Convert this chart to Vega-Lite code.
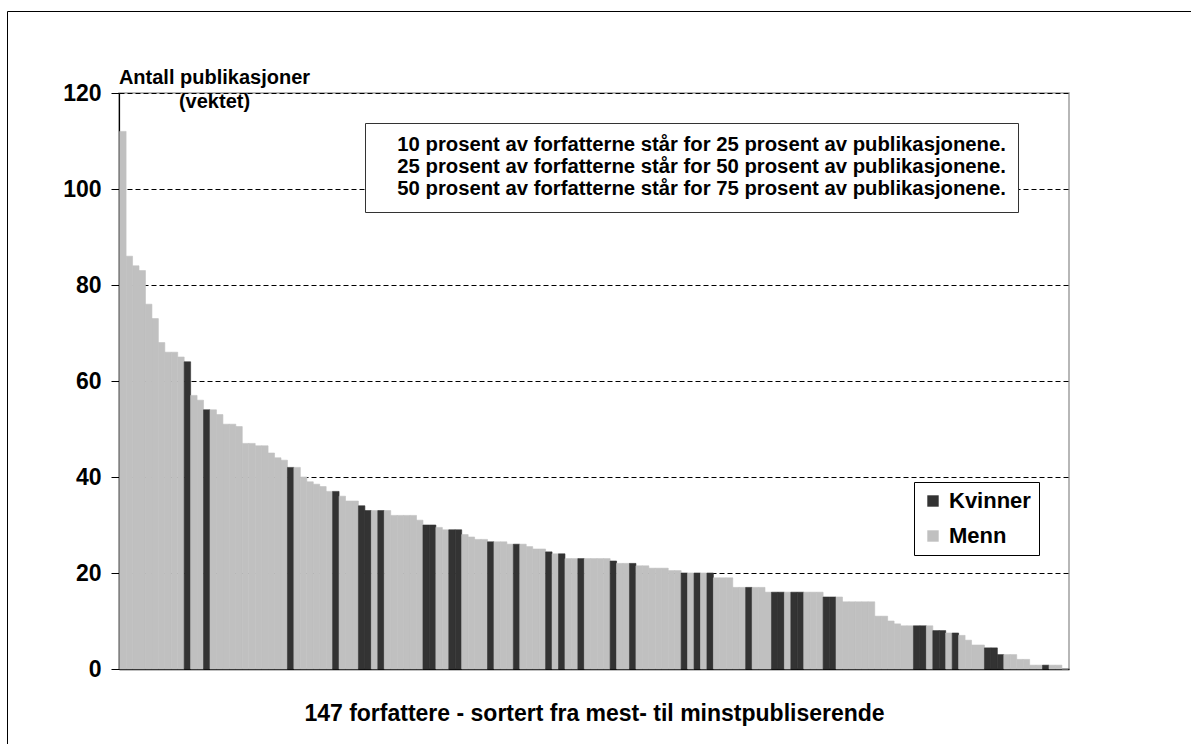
{
  "$schema": "https://vega.github.io/schema/vega-lite/v6.json",
  "width": 950,
  "height": 576,
  "autosize": {"type": "none"},
  "padding": {"left": 119, "top": 93, "right": 122, "bottom": 75},
  "background": "white",
  "config": {
    "font": "Liberation Sans",
    "view": {"stroke": "#a0a0a0", "strokeWidth": 1.5},
    "legend": {"labelFont": "Liberation Sans", "labelFontWeight": "bold", "labelColor": "black"}
  },
  "layer": [
    {
      "data": {
        "values": [
          {"rank": 1, "value": 112, "kjonn": "Menn"},
          {"rank": 2, "value": 86, "kjonn": "Menn"},
          {"rank": 3, "value": 84, "kjonn": "Menn"},
          {"rank": 4, "value": 83, "kjonn": "Menn"},
          {"rank": 5, "value": 76, "kjonn": "Menn"},
          {"rank": 6, "value": 73, "kjonn": "Menn"},
          {"rank": 7, "value": 68, "kjonn": "Menn"},
          {"rank": 8, "value": 66, "kjonn": "Menn"},
          {"rank": 9, "value": 66, "kjonn": "Menn"},
          {"rank": 10, "value": 65, "kjonn": "Menn"},
          {"rank": 11, "value": 64, "kjonn": "Kvinner"},
          {"rank": 12, "value": 57, "kjonn": "Menn"},
          {"rank": 13, "value": 56, "kjonn": "Menn"},
          {"rank": 14, "value": 54, "kjonn": "Kvinner"},
          {"rank": 15, "value": 54, "kjonn": "Menn"},
          {"rank": 16, "value": 53, "kjonn": "Menn"},
          {"rank": 17, "value": 51, "kjonn": "Menn"},
          {"rank": 18, "value": 51, "kjonn": "Menn"},
          {"rank": 19, "value": 50.5, "kjonn": "Menn"},
          {"rank": 20, "value": 47, "kjonn": "Menn"},
          {"rank": 21, "value": 47, "kjonn": "Menn"},
          {"rank": 22, "value": 46.5, "kjonn": "Menn"},
          {"rank": 23, "value": 46.5, "kjonn": "Menn"},
          {"rank": 24, "value": 45, "kjonn": "Menn"},
          {"rank": 25, "value": 44, "kjonn": "Menn"},
          {"rank": 26, "value": 43.5, "kjonn": "Menn"},
          {"rank": 27, "value": 42, "kjonn": "Kvinner"},
          {"rank": 28, "value": 42, "kjonn": "Menn"},
          {"rank": 29, "value": 40, "kjonn": "Menn"},
          {"rank": 30, "value": 39, "kjonn": "Menn"},
          {"rank": 31, "value": 38.5, "kjonn": "Menn"},
          {"rank": 32, "value": 38, "kjonn": "Menn"},
          {"rank": 33, "value": 37, "kjonn": "Menn"},
          {"rank": 34, "value": 37, "kjonn": "Kvinner"},
          {"rank": 35, "value": 36, "kjonn": "Menn"},
          {"rank": 36, "value": 35, "kjonn": "Menn"},
          {"rank": 37, "value": 35, "kjonn": "Menn"},
          {"rank": 38, "value": 34, "kjonn": "Kvinner"},
          {"rank": 39, "value": 33, "kjonn": "Kvinner"},
          {"rank": 40, "value": 33, "kjonn": "Menn"},
          {"rank": 41, "value": 33, "kjonn": "Kvinner"},
          {"rank": 42, "value": 33, "kjonn": "Menn"},
          {"rank": 43, "value": 32, "kjonn": "Menn"},
          {"rank": 44, "value": 32, "kjonn": "Menn"},
          {"rank": 45, "value": 32, "kjonn": "Menn"},
          {"rank": 46, "value": 32, "kjonn": "Menn"},
          {"rank": 47, "value": 31, "kjonn": "Menn"},
          {"rank": 48, "value": 30, "kjonn": "Kvinner"},
          {"rank": 49, "value": 30, "kjonn": "Kvinner"},
          {"rank": 50, "value": 29.5, "kjonn": "Menn"},
          {"rank": 51, "value": 29, "kjonn": "Menn"},
          {"rank": 52, "value": 29, "kjonn": "Kvinner"},
          {"rank": 53, "value": 29, "kjonn": "Kvinner"},
          {"rank": 54, "value": 28, "kjonn": "Menn"},
          {"rank": 55, "value": 27.5, "kjonn": "Menn"},
          {"rank": 56, "value": 27, "kjonn": "Menn"},
          {"rank": 57, "value": 27, "kjonn": "Menn"},
          {"rank": 58, "value": 26.5, "kjonn": "Kvinner"},
          {"rank": 59, "value": 26.5, "kjonn": "Menn"},
          {"rank": 60, "value": 26.5, "kjonn": "Menn"},
          {"rank": 61, "value": 26, "kjonn": "Menn"},
          {"rank": 62, "value": 26, "kjonn": "Kvinner"},
          {"rank": 63, "value": 26, "kjonn": "Menn"},
          {"rank": 64, "value": 25.5, "kjonn": "Menn"},
          {"rank": 65, "value": 25, "kjonn": "Menn"},
          {"rank": 66, "value": 25, "kjonn": "Menn"},
          {"rank": 67, "value": 24.4, "kjonn": "Kvinner"},
          {"rank": 68, "value": 24, "kjonn": "Menn"},
          {"rank": 69, "value": 24, "kjonn": "Kvinner"},
          {"rank": 70, "value": 23, "kjonn": "Menn"},
          {"rank": 71, "value": 23, "kjonn": "Menn"},
          {"rank": 72, "value": 23, "kjonn": "Kvinner"},
          {"rank": 73, "value": 23, "kjonn": "Menn"},
          {"rank": 74, "value": 23, "kjonn": "Menn"},
          {"rank": 75, "value": 23, "kjonn": "Menn"},
          {"rank": 76, "value": 23, "kjonn": "Menn"},
          {"rank": 77, "value": 22.5, "kjonn": "Kvinner"},
          {"rank": 78, "value": 22, "kjonn": "Menn"},
          {"rank": 79, "value": 22, "kjonn": "Menn"},
          {"rank": 80, "value": 22, "kjonn": "Kvinner"},
          {"rank": 81, "value": 21.5, "kjonn": "Menn"},
          {"rank": 82, "value": 21.5, "kjonn": "Menn"},
          {"rank": 83, "value": 21, "kjonn": "Menn"},
          {"rank": 84, "value": 21, "kjonn": "Menn"},
          {"rank": 85, "value": 21, "kjonn": "Menn"},
          {"rank": 86, "value": 20.5, "kjonn": "Menn"},
          {"rank": 87, "value": 20.5, "kjonn": "Menn"},
          {"rank": 88, "value": 20, "kjonn": "Kvinner"},
          {"rank": 89, "value": 20, "kjonn": "Menn"},
          {"rank": 90, "value": 20, "kjonn": "Kvinner"},
          {"rank": 91, "value": 20, "kjonn": "Menn"},
          {"rank": 92, "value": 20, "kjonn": "Kvinner"},
          {"rank": 93, "value": 19, "kjonn": "Menn"},
          {"rank": 94, "value": 19, "kjonn": "Menn"},
          {"rank": 95, "value": 19, "kjonn": "Menn"},
          {"rank": 96, "value": 17, "kjonn": "Menn"},
          {"rank": 97, "value": 17, "kjonn": "Menn"},
          {"rank": 98, "value": 17, "kjonn": "Kvinner"},
          {"rank": 99, "value": 17, "kjonn": "Menn"},
          {"rank": 100, "value": 17, "kjonn": "Menn"},
          {"rank": 101, "value": 16, "kjonn": "Menn"},
          {"rank": 102, "value": 16, "kjonn": "Kvinner"},
          {"rank": 103, "value": 16, "kjonn": "Kvinner"},
          {"rank": 104, "value": 16, "kjonn": "Menn"},
          {"rank": 105, "value": 16, "kjonn": "Kvinner"},
          {"rank": 106, "value": 16, "kjonn": "Kvinner"},
          {"rank": 107, "value": 16, "kjonn": "Menn"},
          {"rank": 108, "value": 16, "kjonn": "Menn"},
          {"rank": 109, "value": 16, "kjonn": "Menn"},
          {"rank": 110, "value": 15, "kjonn": "Kvinner"},
          {"rank": 111, "value": 15, "kjonn": "Kvinner"},
          {"rank": 112, "value": 15, "kjonn": "Menn"},
          {"rank": 113, "value": 14, "kjonn": "Menn"},
          {"rank": 114, "value": 14, "kjonn": "Menn"},
          {"rank": 115, "value": 14, "kjonn": "Menn"},
          {"rank": 116, "value": 14, "kjonn": "Menn"},
          {"rank": 117, "value": 14, "kjonn": "Menn"},
          {"rank": 118, "value": 11, "kjonn": "Menn"},
          {"rank": 119, "value": 11, "kjonn": "Menn"},
          {"rank": 120, "value": 10, "kjonn": "Menn"},
          {"rank": 121, "value": 9.4, "kjonn": "Menn"},
          {"rank": 122, "value": 9, "kjonn": "Menn"},
          {"rank": 123, "value": 9, "kjonn": "Menn"},
          {"rank": 124, "value": 9, "kjonn": "Kvinner"},
          {"rank": 125, "value": 9, "kjonn": "Kvinner"},
          {"rank": 126, "value": 9, "kjonn": "Menn"},
          {"rank": 127, "value": 8, "kjonn": "Kvinner"},
          {"rank": 128, "value": 8, "kjonn": "Kvinner"},
          {"rank": 129, "value": 7.5, "kjonn": "Menn"},
          {"rank": 130, "value": 7.5, "kjonn": "Kvinner"},
          {"rank": 131, "value": 7, "kjonn": "Menn"},
          {"rank": 132, "value": 6, "kjonn": "Menn"},
          {"rank": 133, "value": 5, "kjonn": "Menn"},
          {"rank": 134, "value": 5, "kjonn": "Menn"},
          {"rank": 135, "value": 4.4, "kjonn": "Kvinner"},
          {"rank": 136, "value": 4.4, "kjonn": "Kvinner"},
          {"rank": 137, "value": 3, "kjonn": "Kvinner"},
          {"rank": 138, "value": 3, "kjonn": "Menn"},
          {"rank": 139, "value": 3, "kjonn": "Menn"},
          {"rank": 140, "value": 2, "kjonn": "Menn"},
          {"rank": 141, "value": 2, "kjonn": "Menn"},
          {"rank": 142, "value": 0.8, "kjonn": "Menn"},
          {"rank": 143, "value": 0.8, "kjonn": "Menn"},
          {"rank": 144, "value": 0.8, "kjonn": "Kvinner"},
          {"rank": 145, "value": 0.8, "kjonn": "Menn"},
          {"rank": 146, "value": 0.8, "kjonn": "Menn"},
          {"rank": 147, "value": 0, "kjonn": "Menn"}
        ]
      },
      "mark": {"type": "bar", "width": {"band": 1}, "strokeWidth": 0.6},
      "encoding": {
        "x": {
          "field": "rank",
          "type": "ordinal",
          "scale": {"paddingInner": 0, "paddingOuter": 0.1},
          "axis": {
            "labels": false,
            "ticks": false,
            "domainColor": "black",
            "domainWidth": 1.5,
            "title": "147 forfattere - sortert fra mest- til minstpubliserende",
            "titleFont": "Liberation Sans",
            "titleFontSize": 23,
            "titleFontWeight": "bold",
            "titleColor": "black",
            "titlePadding": 33
          }
        },
        "y": {
          "field": "value",
          "type": "quantitative",
          "scale": {"domain": [0, 120], "nice": false},
          "axis": {
            "values": [0, 20, 40, 60, 80, 100, 120],
            "domainColor": "black",
            "domainWidth": 1.2,
            "tickColor": "black",
            "tickSize": 8,
            "labelFont": "Liberation Sans",
            "labelFontSize": 23,
            "labelFontWeight": "bold",
            "labelColor": "black",
            "labelPadding": 10,
            "grid": true,
            "gridColor": "black",
            "gridDash": [5, 3],
            "gridWidth": 1,
            "title": ["Antall publikasjoner", "(vektet)"],
            "titleFont": "Liberation Sans",
            "titleFontSize": 20,
            "titleFontWeight": "bold",
            "titleColor": "black",
            "titleAngle": 0,
            "titleAlign": "center",
            "titleBaseline": "alphabetic",
            "titleLineHeight": 24,
            "titleX": 95,
            "titleY": -10
          }
        },
        "color": {
          "field": "kjonn",
          "type": "nominal",
          "scale": {"domain": ["Kvinner", "Menn"], "range": ["#333333", "#c0c0c0"]},
          "legend": {
            "title": null,
            "orient": "none",
            "legendX": 795,
            "legendY": 389,
            "direction": "vertical",
            "strokeColor": "black",
            "fillColor": "white",
            "padding": 8,
            "labelFontSize": 22,
            "symbolType": "square",
            "symbolSize": 130,
            "symbolStrokeWidth": 0,
            "labelOffset": 5,
            "rowPadding": 13
          }
        },
        "stroke": {
          "field": "kjonn",
          "type": "nominal",
          "scale": {"domain": ["Kvinner", "Menn"], "range": ["#333333", "#c0c0c0"]},
          "legend": null
        }
      }
    },
    {
      "data": {
        "values": [
          {"tekst": "10 prosent av forfatterne står for 25 prosent av publikasjonene."},
          {"tekst": "25 prosent av forfatterne står for 50 prosent av publikasjonene."},
          {"tekst": "50 prosent av forfatterne står for 75 prosent av publikasjonene."}
        ]
      },
      "mark": {"type": "point", "opacity": 0},
      "encoding": {
        "shape": {
          "field": "tekst",
          "type": "nominal",
          "scale": {"domain": [
            "10 prosent av forfatterne står for 25 prosent av publikasjonene.",
            "25 prosent av forfatterne står for 50 prosent av publikasjonene.",
            "50 prosent av forfatterne står for 75 prosent av publikasjonene."
          ]},
          "legend": {
            "title": null,
            "orient": "none",
            "legendX": 246,
            "legendY": 30,
            "direction": "vertical",
            "strokeColor": "#333333",
            "fillColor": "white",
            "padding": 12,
            "labelFontSize": 20.3,
            "labelLimit": 2000,
            "symbolSize": 0,
            "symbolOpacity": 0,
            "symbolStrokeWidth": 0,
            "labelOffset": 0,
            "rowPadding": 1
          }
        }
      }
    },
    {
      "data": {"values": [{"ramme": "a"}]},
      "mark": {"type": "point", "opacity": 0},
      "encoding": {
        "size": {
          "field": "ramme",
          "type": "ordinal",
          "legend": {
            "title": null,
            "orient": "none",
            "legendX": -112,
            "legendY": -82,
            "strokeColor": "black",
            "padding": 1400,
            "symbolOpacity": 0,
            "labelOpacity": 0,
            "labelExpr": "''"
          }
        }
      }
    }
  ]
}
